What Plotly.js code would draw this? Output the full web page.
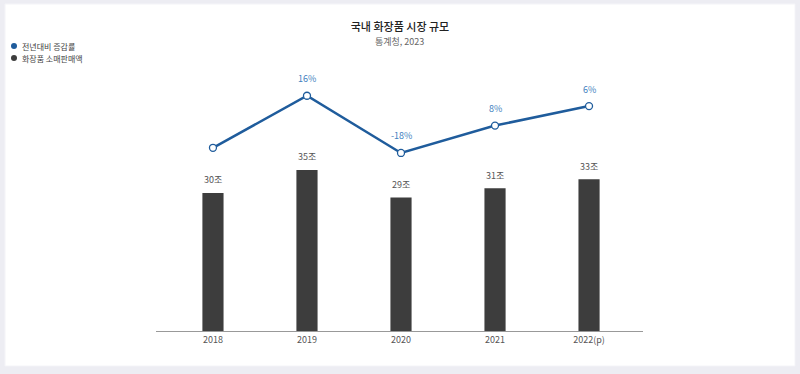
<!DOCTYPE html>
<html><head><meta charset="utf-8">
<script src="https://cdn.plot.ly/plotly-3.0.1.min.js"></script>
<style>html,body{margin:0;padding:0;background:#EDEDF3;}#chart{width:800px;height:374px;}</style>
</head><body><div id="chart"></div>
<script>
// Data
const years = ['2018', '2019', '2020', '2021', '2022(p)'];
const salesTrillion = [30, 35, 29, 31, 33];          // 화장품 소매판매액 (조)
const growthLabels = ['', '16%', '-18%', '8%', '6%'];  // 전년대비 증감률 labels
const lineLevel = [67.6, 86.8, 65.7, 75.8, 83.0];      // line heights on secondary axis (0-100 scale)
const legendNames = ['전년대비 증감률', '화장품 소매판매액'];

const FONT = '"Noto Sans CJK KR", "Noto Sans", sans-serif';
const BLUE = '#1f5c9c';
const DARK = '#3d3d3d';

const ML = 156, MT = 60, PW = 487, PH = 271;
const px = (X) => (X - ML) / PW;
const py = (Y) => (MT + PH - Y) / PH;

const traces = [
  { type: 'bar', x: years, y: salesTrillion, marker: { color: DARK }, width: 0.225,
    showlegend: false, hoverinfo: 'skip' },
  { type: 'scatter', mode: 'lines+markers', x: years, y: lineLevel, yaxis: 'y2',
    line: { color: BLUE, width: 2.5 },
    marker: { size: 7, color: '#ffffff', line: { color: BLUE, width: 1.3 } },
    showlegend: false, hoverinfo: 'skip' }
];

const annotations = [];
years.forEach((yr, i) => {
  annotations.push({ x: i, y: salesTrillion[i], xref: 'x', yref: 'y', text: salesTrillion[i] + '조',
    showarrow: false, yshift: 13, yanchor: 'middle', font: { family: FONT, size: 9, color: '#555' } });
  if (growthLabels[i]) {
    annotations.push({ x: i, y: lineLevel[i], xref: 'x', yref: 'y2', text: growthLabels[i],
      showarrow: false, yshift: 17, yanchor: 'middle', font: { family: FONT, size: 9, color: '#3f7fc0' } });
  }
});
annotations.push({ text: '통계청, 2023', xref: 'paper', yref: 'paper', x: 0.5, y: py(41),
  xanchor: 'center', yanchor: 'middle', showarrow: false, font: { family: FONT, size: 9, color: '#666' } });

const shapes = [{ type: 'rect', xref: 'paper', yref: 'paper', x0: px(5), x1: px(795), y0: py(366), y1: py(4),
  fillcolor: '#ffffff', line: { color: '#f4f4f8', width: 1 }, layer: 'below' }];

// legend drawn as circle shapes + annotations
const legendColors = [BLUE, DARK];
const legendY = [46, 58];
legendNames.forEach((nm, i) => {
  shapes.push({ type: 'circle', xref: 'paper', yref: 'paper', x0: px(11), x1: px(17),
    y0: py(legendY[i] + 3), y1: py(legendY[i] - 3), fillcolor: legendColors[i], line: { width: 0 } });
  annotations.push({ xref: 'paper', yref: 'paper', x: px(20), y: py(legendY[i]),
    xanchor: 'left', yanchor: 'middle', showarrow: false, text: nm,
    font: { family: FONT, size: 8, color: '#444' } });
});

const layout = {
  width: 800, height: 374,
  margin: { l: ML, r: 800 - ML - PW, t: MT, b: 374 - MT - PH, pad: 0 },
  paper_bgcolor: '#EDEDF3', plot_bgcolor: 'rgba(0,0,0,0)',
  font: { family: FONT, size: 9, color: '#444' },
  title: { text: '국내 화장품 시장 규모', x: 0.5, xref: 'container', y: 0.928, yref: 'container',
    yanchor: 'middle', font: { family: FONT, size: 11, color: '#222', weight: 500 } },
  xaxis: { type: 'category', range: [-0.606, 4.574], showgrid: false, zeroline: false,
    showline: true, linecolor: '#999', linewidth: 1, ticks: '', fixedrange: true,
    tickfont: { family: FONT, size: 9, color: '#555' } },
  yaxis: { range: [0, 58.9], showgrid: false, zeroline: false, showticklabels: false, showline: false },
  yaxis2: { range: [0, 100], overlaying: 'y', side: 'right', showgrid: false, zeroline: false,
    showticklabels: false, showline: false },
  showlegend: false,
  shapes: shapes,
  annotations: annotations
};

Plotly.newPlot('chart', traces, layout, { displayModeBar: false, staticPlot: true });
</script></body></html>
